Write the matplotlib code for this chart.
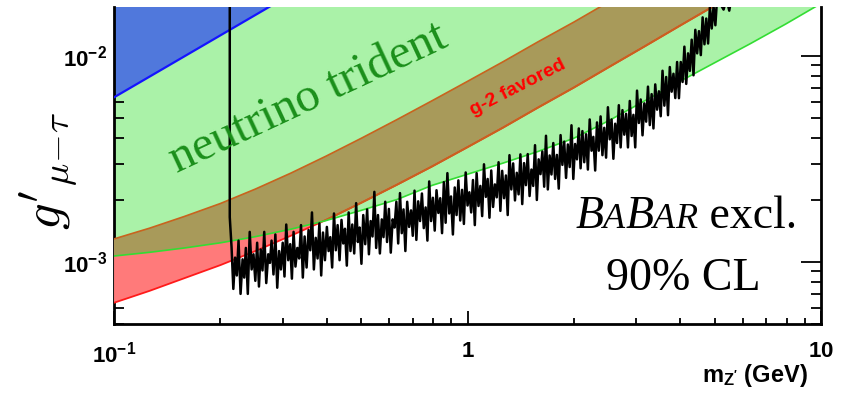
import numpy as np
import matplotlib.pyplot as plt
from matplotlib.ticker import NullFormatter
from matplotlib.offsetbox import TextArea, HPacker, AnchoredOffsetbox

plt.rcParams['mathtext.fontset'] = 'custom'
plt.rcParams['mathtext.rm'] = 'Liberation Sans'
plt.rcParams['mathtext.bf'] = 'Liberation Sans:bold'
plt.rcParams['mathtext.it'] = 'Liberation Sans:italic'

# ---- curves (x in GeV, y = coupling) ----
blue_x = [0.1, 0.30]
blue_y = [6.3e-3, 1.89e-2]

# neutrino trident lower edge
tri_x = [0.1, 0.126, 0.158, 0.2, 0.251, 0.316, 0.398, 0.501, 0.631, 0.794, 1.0,
         1.26, 1.58, 2.0, 2.51, 3.16, 3.98, 5.01, 6.31, 7.94, 10.0]
tri_y = [1.069e-3, 1.114e-3, 1.169e-3, 1.239e-3, 1.327e-3, 1.442e-3, 1.589e-3,
         1.782e-3, 2.009e-3, 2.355e-3, 2.667e-3, 3.020e-3, 3.436e-3, 3.990e-3,
         4.853e-3, 6.039e-3, 7.516e-3, 9.290e-3, 1.148e-2, 1.429e-2, 1.799e-2]

# g-2 favoured band
g2_hi_x = [0.1, 0.126, 0.158, 0.2, 0.251, 0.316, 0.398, 0.501, 0.631, 0.794, 1.0,
           1.26, 1.58, 2.0, 2.51]
g2_hi_y = [1.294e-3, 1.459e-3, 1.663e-3, 1.923e-3, 2.259e-3, 2.698e-3, 3.266e-3,
           3.990e-3, 4.909e-3, 6.067e-3, 7.534e-3, 9.376e-3, 1.17e-2, 1.462e-2, 1.832e-2]
g2_lo_x = [0.1, 0.126, 0.158, 0.2, 0.251, 0.316, 0.398, 0.501, 0.631, 0.794, 1.0,
           1.26, 1.58, 2.0, 2.51, 3.16, 3.98, 5.01]
g2_lo_y = [6.34e-4, 7.24e-4, 8.34e-4, 9.66e-4, 1.13e-3, 1.34e-3, 1.60e-3, 1.94e-3,
           2.37e-3, 2.91e-3, 3.61e-3, 4.49e-3, 5.61e-3, 7.03e-3, 8.83e-3, 1.11e-2,
           1.40e-2, 1.76e-2]

# BaBar 90% CL limit, coupling in units of 1e-4
babar_start_x = [0.2125, 0.2125]
babar_start_g = [200, 16.5]
babar_peak_x = [0.215, 0.220, 0.225, 0.231, 0.236, 0.242, 0.248, 0.254, 0.260, 0.266,
                0.273, 0.279, 0.286, 0.293, 0.300, 0.307, 0.315, 0.322, 0.330, 0.338,
                0.346, 0.355, 0.363, 0.372, 0.381, 0.390, 0.400, 0.409, 0.419, 0.429,
                0.440, 0.450, 0.461, 0.472, 0.484, 0.495, 0.507, 0.520, 0.532, 0.545,
                0.558, 0.572, 0.585, 0.599, 0.614, 0.629, 0.644, 0.659, 0.675, 0.692,
                0.708, 0.725, 0.743, 0.761, 0.779, 0.798, 0.817, 0.837, 0.857, 0.877,
                0.898, 0.920, 0.942, 0.965, 0.988, 1.012, 1.036, 1.061, 1.087, 1.113,
                1.140, 1.167, 1.195, 1.224, 1.253, 1.284, 1.314, 1.346, 1.378, 1.411,
                1.445, 1.480, 1.516, 1.552, 1.589, 1.628, 1.667, 1.707, 1.748, 1.790,
                1.833, 1.877, 1.922, 1.968, 2.015, 2.064, 2.113, 2.164, 2.216, 2.269,
                2.324, 2.379, 2.436, 2.495, 2.555, 2.616, 2.679, 2.743, 2.809, 2.877,
                2.946, 3.016, 3.089, 3.163, 3.239, 3.317, 3.396, 3.478, 3.561, 3.647,
                3.734, 3.824, 3.916, 4.010, 4.106, 4.205, 4.306, 4.409, 4.515, 4.624,
                4.735, 4.848, 4.965, 5.084]
babar_peak_g = [11.8, 10.5, 12.7, 10.3, 11.7, 14.0, 10.9, 12.4, 11.5, 14.0,
                10.9, 12.7, 13.6, 11.3, 12.4, 15.2, 12.2, 14.0, 11.7, 15.1,
                13.3, 14.3, 17.4, 13.1, 15.4, 13.9, 14.8, 13.2, 17.2, 15.1,
                16.0, 14.5, 17.4, 15.2, 19.3, 14.7, 16.9, 18.0, 15.8, 21.9,
                16.9, 16.1, 19.6, 18.1, 16.1, 19.6, 21.6, 18.0, 19.6, 17.8,
                22.2, 19.7, 21.5, 18.4, 24.6, 20.5, 22.3, 20.4, 24.4, 27.0,
                20.8, 23.0, 24.9, 22.4, 27.2, 21.8, 25.0, 27.0, 23.4, 29.8,
                25.3, 27.8, 23.8, 30.5, 27.7, 26.3, 33.0, 30.1, 27.1, 33.3,
                30.2, 33.4, 28.1, 36.9, 31.5, 34.4, 41.0, 32.9, 37.8, 33.1,
                41.3, 38.4, 37.2, 46.1, 37.4, 44.5, 43.2, 41.7, 49.2, 40.5,
                47.6, 50.9, 44.8, 56.4, 49.2, 46.9, 57.7, 54.6, 52.4, 60.5,
                51.8, 67.9, 61.5, 58.9, 71.0, 65.3, 72.8, 67.4, 84.8, 79.1,
                88.4, 82.0, 93.5, 93.5, 111, 103, 120, 134, 132, 154,
                152, 173, 174, 195]
babar_dip_x = [0.2175, 0.2225, 0.228, 0.2335, 0.239, 0.245, 0.251, 0.257, 0.263, 0.2695,
               0.276, 0.2825, 0.2895, 0.2965, 0.3035, 0.311, 0.3185, 0.326, 0.334, 0.342,
               0.3505, 0.359, 0.3675, 0.3765, 0.3855, 0.395, 0.4045, 0.414, 0.424, 0.4345,
               0.445, 0.4555, 0.4665, 0.478, 0.4895, 0.501, 0.5135, 0.526, 0.5385, 0.5515,
               0.565, 0.5785, 0.592, 0.6065, 0.6215, 0.6365, 0.6515, 0.667, 0.6835, 0.700,
               0.7165, 0.734, 0.752, 0.770, 0.7885, 0.8075, 0.827, 0.847, 0.867, 0.8875,
               0.909, 0.931, 0.9535, 0.9765, 1.000, 1.024, 1.0485, 1.074, 1.100, 1.1265,
               1.1535, 1.181, 1.2095, 1.2385, 1.2685, 1.299, 1.330, 1.362, 1.3945, 1.428,
               1.4625, 1.498, 1.534, 1.5705, 1.6085, 1.6475, 1.687, 1.7275, 1.769, 1.8115,
               1.855, 1.8995, 1.945, 1.9915, 2.0395, 2.0885, 2.1385, 2.190, 2.2425, 2.2965,
               2.3515, 2.4075, 2.4655, 2.525, 2.5855, 2.6475, 2.711, 2.776, 2.843, 2.9115,
               2.981, 3.0525, 3.126, 3.201, 3.278, 3.3565, 3.437, 3.5195, 3.604, 3.6905,
               3.779, 3.870, 3.963, 4.058, 4.1555, 4.2555, 4.3575, 4.462, 4.5695, 4.6795,
               4.7915, 4.9065, 5.0245]
babar_dip_g = [7.4, 8.6, 7.0, 8.4, 7.0, 9.2, 8.1, 7.6, 9.1, 7.9,
               9.9, 8.7, 7.5, 9.2, 8.5, 10.2, 8.3, 9.5, 10.4, 8.4,
               9.4, 11.4, 9.2, 10.4, 8.6, 10.2, 11.3, 9.4, 11.4, 10.2,
               12.3, 9.6, 11.3, 11.0, 12.5, 9.8, 12.2, 10.9, 13.3, 11.7,
               11.0, 13.2, 12.5, 11.1, 14.7, 12.3, 13.8, 11.3, 14.8, 13.4,
               12.8, 15.8, 14.6, 12.7, 15.8, 14.2, 17.3, 13.8, 15.5, 17.2,
               13.6, 16.9, 15.9, 15.3, 18.8, 17.4, 15.1, 18.7, 16.7, 20.7,
               16.4, 18.5, 20.6, 17.7, 20.4, 16.9, 22.5, 19.9, 21.3, 19.1,
               23.6, 20.9, 23.4, 20.0, 26.7, 23.2, 22.5, 26.6, 25.3, 22.7,
               29.6, 25.6, 28.9, 25.3, 31.5, 28.5, 30.5, 28.1, 34.7, 27.8,
               34.7, 33.0, 32.1, 39.4, 31.7, 37.8, 36.0, 41.5, 36.0, 40.9,
               36.0, 47.3, 41.2, 48.0, 46.2, 44.5, 54.9, 51.0, 57.4, 51.6,
               67.1, 62.5, 62.4, 74.8, 73.2, 84.7, 80.6, 103, 101, 114,
               115, 136, 141]
babar_tail_x = [5.20, 5.30, 5.40, 5.50, 5.60]
babar_tail_g = [178, 168, 190, 166, 200]

xticks = [0.1, 1, 10]
xtick_labels = [r'$\mathbf{10^{-1}}$', r'$\mathbf{1}$', r'$\mathbf{10}$']
yticks = [1e-3, 1e-2]
ytick_labels = [r'$\mathbf{10^{-3}}$', r'$\mathbf{10^{-2}}$']

c_green = '#aaf2a8'
c_blue = '#5078dc'
c_red = '#ff7a7a'
c_olive = '#a89a5a'
c_brown = '#c8641e'

fig = plt.figure(figsize=(8.46, 3.94), dpi=100)
ax = fig.add_axes([0.1348, 0.1777, 0.8357, 0.8033])
ax.set_xscale('log')
ax.set_yscale('log')

# filled regions
green_patch = ax.fill(np.r_[tri_x, tri_x[-1], tri_x[0]], np.r_[tri_y, 1.0, 1.0],
                      color=c_green, lw=0, zorder=1)[0]
ax.fill(np.r_[blue_x, blue_x[-1], blue_x[0]], np.r_[blue_y, 1.0, 1.0],
        color=c_blue, lw=0, zorder=2)
band_x = np.r_[g2_lo_x, g2_hi_x[::-1]]
band_y = np.r_[g2_lo_y, g2_hi_y[::-1]]
ax.fill(band_x, band_y, color=c_red, lw=0, zorder=3)
olive = ax.fill(band_x, band_y, color=c_olive, lw=0, zorder=4)[0]
olive.set_clip_path(green_patch)

# boundary lines
ax.plot(blue_x, blue_y, color='#1414ff', lw=1.6, zorder=5)
ax.plot(g2_hi_x, g2_hi_y, color=c_brown, lw=1.2, zorder=5)
ax.plot(g2_lo_x, g2_lo_y, color='#ff1a1a', lw=1.3, zorder=5)
lo_brown = ax.plot(g2_lo_x, g2_lo_y, color=c_brown, lw=1.3, zorder=5)[0]
lo_brown.set_clip_path(green_patch)
ax.plot(tri_x, tri_y, color='#33dd33', lw=1.2, zorder=6)

# BaBar limit: peaks and dips merged in mass order
scan_x = np.r_[babar_peak_x, babar_dip_x]
scan_g = np.r_[babar_peak_g, babar_dip_g]
order = np.argsort(scan_x)
bx = np.r_[babar_start_x, scan_x[order], babar_tail_x]
bg = np.r_[babar_start_g, scan_g[order], babar_tail_g] * 1e-4
ax.plot(bx, bg, color='k', lw=1.8, zorder=7)

ax.set_xlim(0.1, 10)
ax.set_ylim(5.0e-4, 1.72e-2)

# axes styling
ax.spines['top'].set_visible(False)
for s in ['left', 'right', 'bottom']:
    ax.spines[s].set_linewidth(2)
ax.tick_params(which='both', direction='in', top=False, right=True, width=1.3)
ax.tick_params(axis='y', which='major', length=14.5, pad=5)
ax.tick_params(axis='y', which='minor', length=7.5)
ax.tick_params(axis='x', which='major', length=9.5, pad=12)
ax.tick_params(axis='x', which='minor', length=4.5)
ax.set_xticks(xticks, labels=xtick_labels, fontsize=16)
ax.set_yticks(yticks, labels=ytick_labels, fontsize=16)
ax.xaxis.set_minor_formatter(NullFormatter())
ax.yaxis.set_minor_formatter(NullFormatter())

# labels
ax.text(-0.093, 0.485, r"$g'_{\mu\!-\!\tau}$", transform=ax.transAxes, rotation=90,
        ha='center', va='center', fontsize=38, math_fontfamily='cm')
ax.text(0.982, -0.183, r"m$_{\mathbf{Z'}}$ (GeV)", transform=ax.transAxes,
        ha='right', va='baseline', fontsize=17, weight='bold', family='Liberation Sans')

ax.text(0.354, 6.25e-3, 'neutrino trident', rotation=25, rotation_mode='anchor',
        ha='center', va='center', family='Liberation Serif', fontsize=35,
        color='#1a8f1a', zorder=8)
ax.text(1.39, 7.0e-3, 'g-2 favored', rotation=27, rotation_mode='anchor',
        ha='center', va='center', family='Liberation Sans', weight='bold',
        fontsize=14, color='#ff0000', zorder=8)

serif_it = dict(family='Liberation Serif', style='italic')
parts = [TextArea('B', textprops=dict(size=33, **serif_it)),
         TextArea('A', textprops=dict(size=26, **serif_it)),
         TextArea('B', textprops=dict(size=33, **serif_it)),
         TextArea('A', textprops=dict(size=26, **serif_it)),
         TextArea('R', textprops=dict(size=26, **serif_it)),
         TextArea(' excl.', textprops=dict(size=33, family='Liberation Serif'))]
babar_box = HPacker(children=parts, align='baseline', pad=0, sep=0)
anch = AnchoredOffsetbox(loc='lower center', child=babar_box, pad=0, borderpad=0,
                         frameon=False, bbox_to_anchor=(0.809, 0.272),
                         bbox_transform=ax.transAxes)
ax.add_artist(anch)
ax.text(0.805, 0.107, '90% CL', transform=ax.transAxes, ha='center', va='baseline',
        family='Liberation Serif', fontsize=33, zorder=8)

fig.savefig('out.png', dpi=100)
